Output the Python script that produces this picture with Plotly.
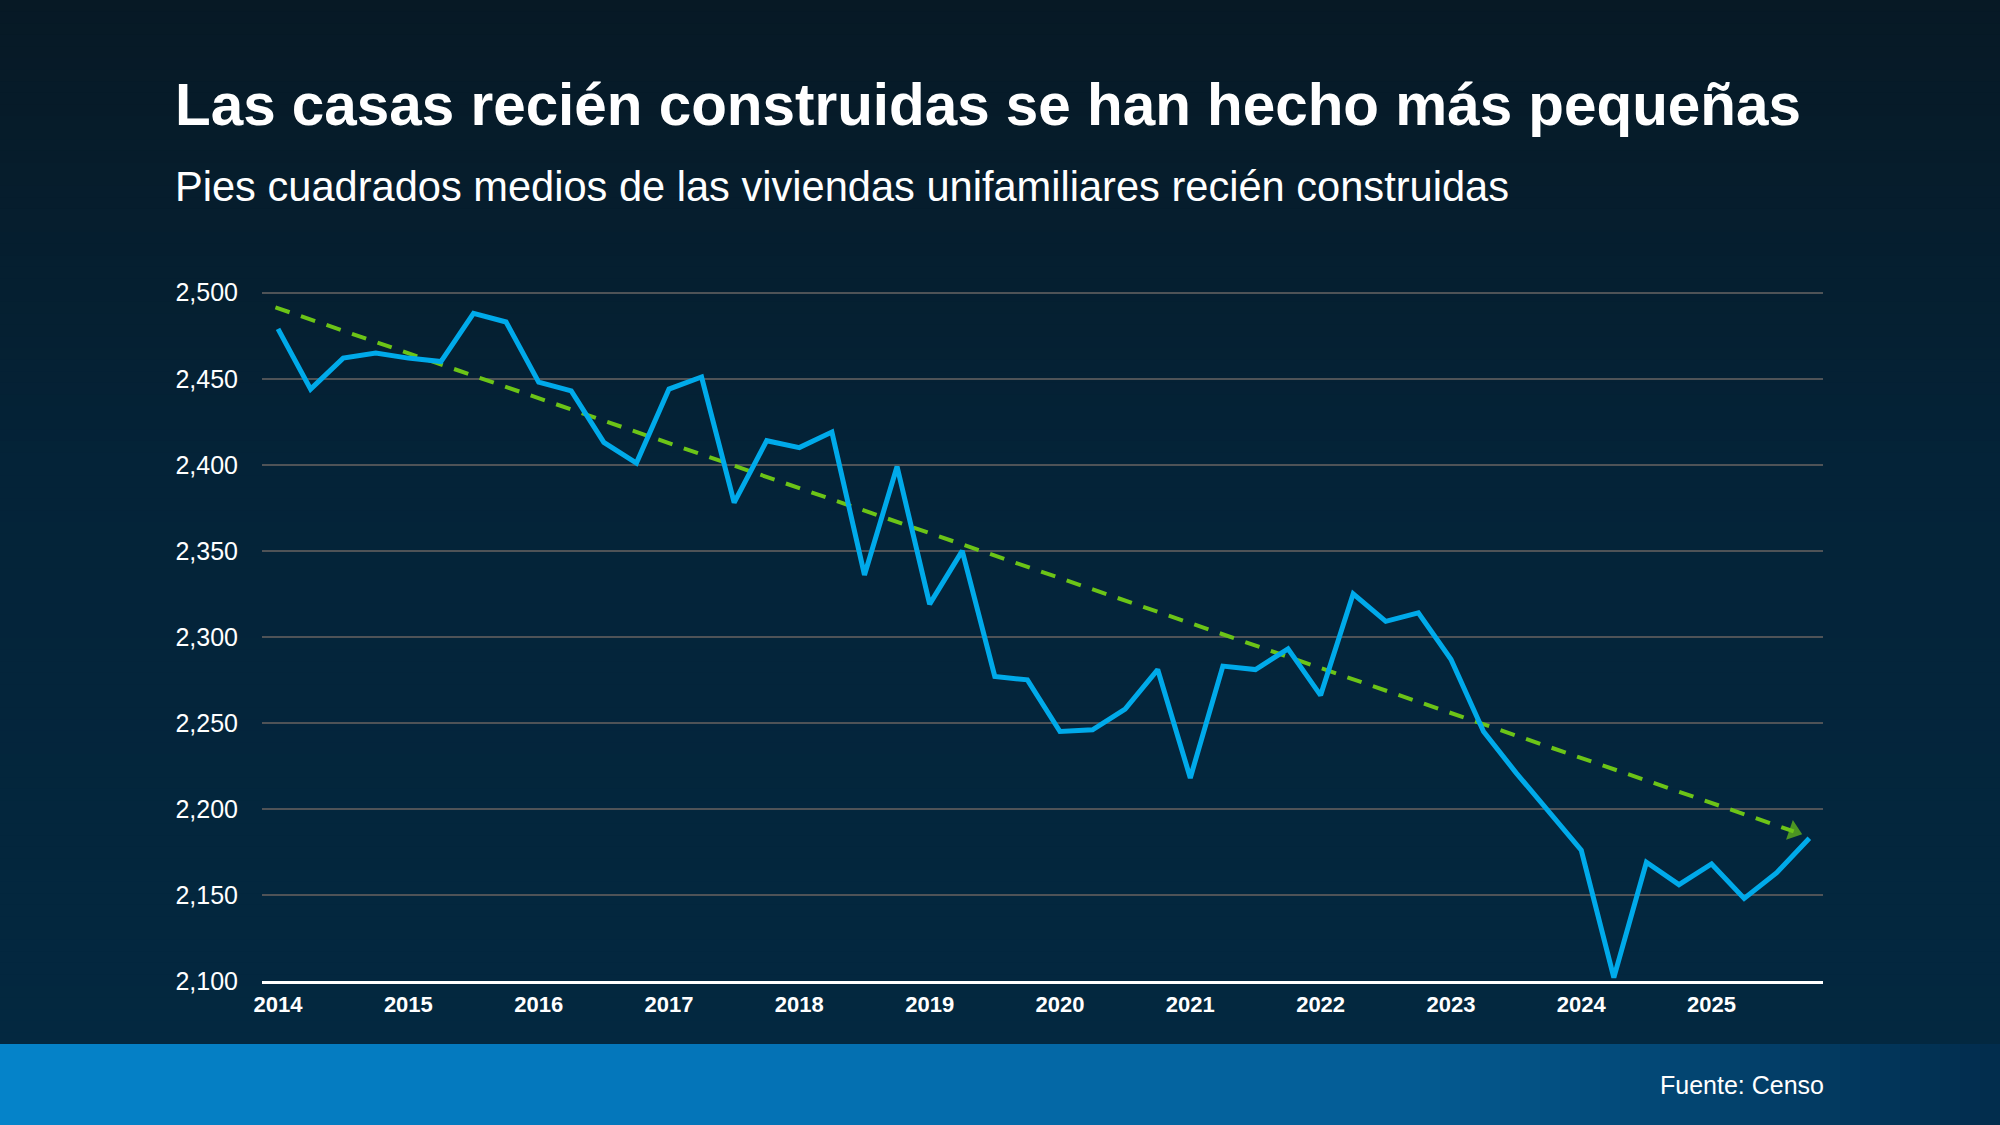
import plotly.graph_objects as go

# ---------------- data ----------------
years = list(range(2014, 2026))
quarters = [1, 2, 3, 4]
sqft = [2479, 2444, 2462, 2465, 2462, 2460, 2488, 2483,
        2448, 2443, 2413, 2401, 2444, 2451, 2378, 2414,
        2410, 2419, 2336, 2399, 2319, 2350, 2277, 2275,
        2245, 2246, 2258, 2281, 2218, 2283, 2281, 2293,
        2266, 2325, 2309, 2314, 2287, 2245, 2221, 2199,
        2176, 2102, 2169, 2156, 2168, 2148, 2163, 2183]
trend_x = [2013.98, 2025.63]
trend_y = [2491.5, 2187.0]
y_ticks = [2100, 2150, 2200, 2250, 2300, 2350, 2400, 2450, 2500]
y_tick_labels = ["2,100", "2,150", "2,200", "2,250", "2,300", "2,350", "2,400", "2,450", "2,500"]
x_tick_labels = [str(y) for y in years]

title = "Las casas recién construidas se han hecho más pequeñas"
subtitle = "Pies cuadrados medios de las viviendas unifamiliares recién construidas"
source = "Fuente: Censo"

# ---------------- layout geometry ----------------
W, H = 2000, 1125
L, R, T, B = 262, 1823, 291, 981
FONT = "Liberation Sans, Arial, Helvetica, sans-serif"


def fx(px):
    return (px - L) / (R - L)


def fy(py):
    return (B - py) / (B - T)


def lerp_color(stops, t):
    for i in range(len(stops) - 1):
        t0, c0 = stops[i]
        t1, c1 = stops[i + 1]
        if t0 <= t <= t1:
            u = (t - t0) / (t1 - t0) if t1 > t0 else 0
            c = [round(c0[k] + (c1[k] - c0[k]) * u) for k in range(3)]
            return "rgb(%d,%d,%d)" % tuple(c)
    c = stops[-1][1]
    return "rgb(%d,%d,%d)" % tuple(c)


x = [y + (q - 1) / 4 for y in years for q in quarters]

shapes = []
# vertical background gradient
FOOT = 1044
bg_stops = [(0.0, (7, 25, 37)), (0.45, (4, 35, 56)), (1.0, (3, 40, 64))]
n = 90
for i in range(n):
    y0 = FOOT * i / n
    y1 = FOOT * (i + 1) / n + 1
    shapes.append(dict(type="rect", xref="paper", yref="paper",
                       x0=fx(0), x1=fx(W), y0=fy(y1), y1=fy(y0),
                       fillcolor=lerp_color(bg_stops, (i + 0.5) / n),
                       line=dict(width=0), layer="below"))
# footer horizontal gradient
ft_stops = [(0.0, (5, 131, 201)), (0.35, (4, 117, 185)), (0.7, (4, 92, 148)), (1.0, (2, 44, 76))]
m = 100
for i in range(m):
    x0 = W * i / m
    x1 = W * (i + 1) / m + 1
    shapes.append(dict(type="rect", xref="paper", yref="paper",
                       x0=fx(x0), x1=fx(x1), y0=fy(H), y1=fy(FOOT),
                       fillcolor=lerp_color(ft_stops, (i + 0.5) / m),
                       line=dict(width=0), layer="below"))

fig = go.Figure()
fig.add_trace(go.Scatter(
    x=trend_x, y=trend_y, mode="lines+markers",
    line=dict(color="#6cc417", width=4, dash="15px,12px"),
    marker=dict(symbol=["circle", "triangle-up"], size=[0, 18], angleref="previous",
                color="#6cc417", line=dict(width=0)),
    hoverinfo="skip", showlegend=False, cliponaxis=False))
fig.add_trace(go.Scatter(
    x=x, y=sqft, mode="lines",
    line=dict(color="#00aaea", width=5),
    showlegend=False))

annotations = [
    dict(text="<b>%s</b>" % title, x=fx(173), y=fy(104), xref="paper", yref="paper",
         xanchor="left", yanchor="middle", showarrow=False,
         font=dict(family=FONT, size=58.4, color="white")),
    dict(text=subtitle, x=fx(173), y=fy(187), xref="paper", yref="paper",
         xanchor="left", yanchor="middle", showarrow=False,
         font=dict(family=FONT, size=41.6, color="white")),
    dict(text=source, x=fx(1826), y=fy(1085), xref="paper", yref="paper",
         xanchor="right", yanchor="middle", showarrow=False,
         font=dict(family=FONT, size=25, color="white")),
]

fig.update_layout(
    width=W, height=H,
    margin=dict(l=L, r=W - R, t=T, b=H - B, pad=0),
    paper_bgcolor="#071a27", plot_bgcolor="rgba(0,0,0,0)",
    shapes=shapes, annotations=annotations,
    font=dict(family=FONT, color="white"),
    xaxis=dict(range=[2013.877, 2025.855], tickvals=years, ticktext=x_tick_labels,
               showgrid=False, zeroline=False, showline=True, linecolor="white", linewidth=3,
               ticks="outside", ticklen=2, tickcolor="rgba(0,0,0,0)",
               tickfont=dict(family=FONT, size=22, color="white", weight="bold"),
               fixedrange=True),
    yaxis=dict(range=[2100, 2501], tickvals=y_ticks, ticktext=y_tick_labels,
               showgrid=True, gridcolor="#4f5357", gridwidth=1.5, zeroline=False,
               showline=False, ticks="outside", ticklen=18, tickcolor="rgba(0,0,0,0)",
               tickfont=dict(family=FONT, size=25, color="white"),
               fixedrange=True),
)

fig.write_html("out.html")
